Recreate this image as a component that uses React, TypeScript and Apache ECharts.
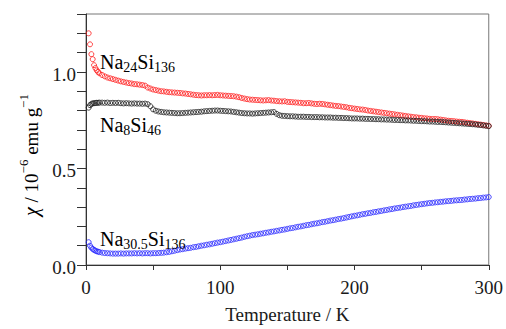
import React, { useEffect, useRef } from 'react';
import * as echarts from 'echarts';

// Temperature (K)
const temps = [
  2, 3, 4, 5, 6, 7, 8, 9, 10,
  12, 14, 16, 18, 20, 22, 24, 26, 28, 30,
  32, 34, 36, 38, 40, 42, 44, 46, 48, 50,
  52, 54, 56, 58, 60, 62, 64, 66, 68, 70,
  72, 74, 76, 78, 80, 82, 84, 86, 88, 90,
  92, 94, 96, 98, 100, 102, 104, 106, 108, 110,
  112, 114, 116, 118, 120, 122, 124, 126, 128, 130,
  132, 134, 136, 138, 140, 142, 144, 146, 148, 150,
  152, 154, 156, 158, 160, 162, 164, 166, 168, 170,
  172, 174, 176, 178, 180, 182, 184, 186, 188, 190,
  192, 194, 196, 198, 200, 202, 204, 206, 208, 210,
  212, 214, 216, 218, 220, 222, 224, 226, 228, 230,
  232, 234, 236, 238, 240, 242, 244, 246, 248, 250,
  252, 254, 256, 258, 260, 262, 264, 266, 268, 270,
  272, 274, 276, 278, 280, 282, 284, 286, 288, 290,
  292, 294, 296, 298, 300,
];

// χ (10^-6 emu/g)
const na24Si136 = [
  1.200, 1.143, 1.092, 1.066, 1.035, 1.020, 1.008, 1.000, 0.993,
  0.984, 0.977, 0.971, 0.967, 0.963, 0.959, 0.955, 0.951, 0.948, 0.945,
  0.942, 0.940, 0.937, 0.936, 0.934, 0.932, 0.929, 0.919, 0.914, 0.909,
  0.906, 0.903, 0.900, 0.899, 0.897, 0.895, 0.894, 0.893, 0.892, 0.891,
  0.889, 0.888, 0.886, 0.884, 0.882, 0.880, 0.879, 0.878, 0.879, 0.879,
  0.880, 0.879, 0.880, 0.881, 0.879, 0.878, 0.877, 0.876, 0.875, 0.874,
  0.872, 0.869, 0.865, 0.862, 0.859, 0.857, 0.856, 0.855, 0.854, 0.853,
  0.852, 0.853, 0.854, 0.852, 0.851, 0.849, 0.848, 0.847, 0.848, 0.845,
  0.844, 0.843, 0.842, 0.841, 0.840, 0.838, 0.838, 0.839, 0.837, 0.835,
  0.834, 0.835, 0.834, 0.832, 0.830, 0.828, 0.826, 0.824, 0.823, 0.821,
  0.819, 0.817, 0.814, 0.812, 0.810, 0.808, 0.806, 0.805, 0.803, 0.800,
  0.798, 0.796, 0.794, 0.792, 0.790, 0.788, 0.786, 0.784, 0.782, 0.780,
  0.778, 0.776, 0.774, 0.772, 0.770, 0.768, 0.766, 0.765, 0.763, 0.762,
  0.760, 0.759, 0.757, 0.756, 0.756, 0.755, 0.753, 0.751, 0.749, 0.747,
  0.746, 0.745, 0.743, 0.742, 0.741, 0.739, 0.737, 0.735, 0.733, 0.731,
  0.729, 0.727, 0.725, 0.723, 0.721,
];

const na8Si46 = [
  0.815, 0.828, 0.834, 0.837, 0.838, 0.839, 0.840, 0.840, 0.841,
  0.841, 0.840, 0.841, 0.839, 0.840, 0.839, 0.840, 0.838, 0.837, 0.838,
  0.837, 0.836, 0.837, 0.836, 0.836, 0.835, 0.836, 0.833, 0.822, 0.806,
  0.799, 0.795, 0.793, 0.791, 0.790, 0.789, 0.788, 0.787, 0.786, 0.786,
  0.787, 0.788, 0.789, 0.790, 0.791, 0.792, 0.793, 0.794, 0.796, 0.797,
  0.798, 0.799, 0.800, 0.800, 0.799, 0.798, 0.797, 0.796, 0.795, 0.793,
  0.791, 0.789, 0.787, 0.786, 0.785, 0.785, 0.784, 0.785, 0.786, 0.787,
  0.788, 0.789, 0.790, 0.791, 0.792, 0.783, 0.776, 0.773, 0.772, 0.771,
  0.770, 0.770, 0.769, 0.768, 0.768, 0.768, 0.767, 0.767, 0.766, 0.766,
  0.766, 0.765, 0.765, 0.764, 0.764, 0.764, 0.763, 0.763, 0.762, 0.762,
  0.761, 0.761, 0.760, 0.759, 0.759, 0.759, 0.758, 0.758, 0.757, 0.757,
  0.756, 0.756, 0.755, 0.755, 0.754, 0.754, 0.753, 0.753, 0.752, 0.751,
  0.751, 0.750, 0.750, 0.749, 0.749, 0.748, 0.747, 0.747, 0.746, 0.745,
  0.745, 0.744, 0.743, 0.743, 0.742, 0.741, 0.741, 0.740, 0.739, 0.738,
  0.737, 0.736, 0.735, 0.734, 0.733, 0.732, 0.731, 0.730, 0.729, 0.728,
  0.726, 0.725, 0.723, 0.721, 0.719,
];

const na305Si136 = [
  0.118, 0.100, 0.090, 0.083, 0.078, 0.074, 0.071, 0.069, 0.067,
  0.064, 0.062, 0.061, 0.060, 0.059, 0.059, 0.059, 0.060, 0.059, 0.060,
  0.060, 0.060, 0.061, 0.060, 0.061, 0.060, 0.061, 0.061, 0.060, 0.061,
  0.061, 0.062, 0.063, 0.064, 0.066, 0.068, 0.071, 0.074, 0.077, 0.080,
  0.082, 0.085, 0.087, 0.089, 0.092, 0.094, 0.097, 0.100, 0.102, 0.105,
  0.107, 0.110, 0.113, 0.116, 0.118, 0.121, 0.124, 0.127, 0.130, 0.133,
  0.136, 0.139, 0.142, 0.146, 0.149, 0.152, 0.155, 0.157, 0.159, 0.162,
  0.164, 0.167, 0.169, 0.172, 0.174, 0.177, 0.179, 0.182, 0.184, 0.187,
  0.190, 0.192, 0.195, 0.198, 0.200, 0.203, 0.206, 0.208, 0.211, 0.214,
  0.216, 0.219, 0.222, 0.224, 0.227, 0.230, 0.232, 0.235, 0.238, 0.240,
  0.243, 0.246, 0.249, 0.252, 0.255, 0.257, 0.260, 0.263, 0.265, 0.268,
  0.270, 0.273, 0.275, 0.278, 0.280, 0.283, 0.285, 0.288, 0.290, 0.293,
  0.295, 0.297, 0.300, 0.302, 0.304, 0.306, 0.309, 0.311, 0.313, 0.315,
  0.317, 0.319, 0.321, 0.322, 0.324, 0.325, 0.327, 0.328, 0.330, 0.331,
  0.332, 0.334, 0.335, 0.336, 0.337, 0.339, 0.340, 0.342, 0.343, 0.344,
  0.346, 0.347, 0.349, 0.350, 0.352,
];

const xLabeled = [0, 100, 200, 300];
const yLabeled = [0, 0.5, 1.0];

const FONT = 'Liberation Serif';
const INK = '#1a1a1a';

export default function App() {
  const ref = useRef<HTMLDivElement>(null);

  useEffect(() => {
    const chart = echarts.init(ref.current!, null, { renderer: 'svg' });
    const pairs = (vals: number[]) => temps.map((t, i) => [t, vals[i]]);
    const scatter = (name: string, vals: number[], color: string) => ({
      name,
      type: 'scatter',
      data: pairs(vals),
      symbol: 'circle',
      symbolSize: 5,
      itemStyle: { color: 'rgba(255,255,255,0)', borderColor: color, borderWidth: 1 },
      emphasis: { disabled: true },
      z: 3,
    });

    const formulaRich = {
      m: { fontFamily: FONT, fontSize: 20, lineHeight: 24, color: INK },
      s: { fontFamily: FONT, fontSize: 14, lineHeight: 14, color: INK, verticalAlign: 'bottom' },
    };
    const formula = (text: string, x: number, y: number) => ({
      type: 'text',
      x,
      y,
      z: 10,
      style: { text, rich: formulaRich, align: 'left', verticalAlign: 'middle' },
    });
    const tickText = { fontFamily: FONT, fontSize: 19, color: INK };
    const tickRich = { t: { fontFamily: FONT, fontSize: 19, color: INK } };
    const yRich = { t: { fontFamily: FONT, fontSize: 19, color: INK, padding: [5, 0, 0, 0] } };

    chart.setOption({
      animation: false,
      backgroundColor: '#fff',
      textStyle: { fontFamily: FONT, color: INK },
      grid: {
        left: 86,
        right: 15,
        top: 14,
        bottom: 58,
        show: true,
        borderColor: '#777',
        borderWidth: 1,
        backgroundColor: 'transparent',
      },
      xAxis: {
        type: 'value',
        min: 0,
        max: 300,
        interval: 50,
        name: '{t|Temperature / K}',
        nameLocation: 'middle',
        nameGap: 40,
        nameTextStyle: { ...tickText, rich: tickRich },
        axisLine: { show: true, lineStyle: { color: '#333', width: 1 } },
        axisTick: { show: true, length: 5, lineStyle: { color: '#333' } },
        axisLabel: {
          ...tickText,
          rich: tickRich,
          margin: 13,
          alignMinLabel: 'center',
          alignMaxLabel: 'center',
          hideOverlap: false,
          formatter: (v: number) => (xLabeled.indexOf(v) >= 0 ? '{t|' + v + '}' : ''),
        },
        splitLine: { show: false },
      },
      yAxis: {
        type: 'value',
        min: 0,
        max: 1.3,
        interval: 0.1,
        axisLine: { show: true, lineStyle: { color: '#333', width: 1 } },
        axisTick: { show: true, length: 9, lineStyle: { color: '#333' } },
        axisLabel: {
          ...tickText,
          rich: yRich,
          margin: 10,
          verticalAlign: 'middle',
          verticalAlignMinLabel: 'middle',
          verticalAlignMaxLabel: 'middle',
          hideOverlap: false,
          formatter: (v: number) =>
            yLabeled.some((l) => Math.abs(l - v) < 1e-6) ? '{t|' + v.toFixed(1) + '}' : '',
        },
        splitLine: { show: false },
      },
      series: [
        scatter('Na24Si136', na24Si136, '#ff1a1a'),
        scatter('Na8Si46', na8Si46, '#1e1e1e'),
        scatter('Na30.5Si136', na305Si136, '#2626ff'),
      ],
      graphic: [
        formula('{m|Na}{s|24}{m|Si}{s|136}', 100, 62),
        formula('{m|Na}{s|8}{m|Si}{s|46}', 100, 125),
        formula('{m|Na}{s|30.5}{m|Si}{s|136}', 100, 239),
        {
          type: 'text',
          x: 31,
          y: 155,
          rotation: Math.PI / 2,
          z: 10,
          style: {
            text: '{i|χ}{m| / 10}{p|−6}{m| emu g}{p|−1}',
            align: 'center',
            verticalAlign: 'middle',
            rich: {
              i: { fontFamily: FONT, fontSize: 20, fontStyle: 'italic', lineHeight: 28, color: INK },
              m: { fontFamily: FONT, fontSize: 19, lineHeight: 28, color: INK },
              p: { fontFamily: FONT, fontSize: 13, lineHeight: 13, color: INK, verticalAlign: 'top' },
            },
          },
        },
      ],
    });
    return () => chart.dispose();
  }, []);

  return (
    <div
      ref={ref}
      style={{ position: 'fixed', left: 0, top: 0, width: 506, height: 329, background: '#fff' }}
    />
  );
}
